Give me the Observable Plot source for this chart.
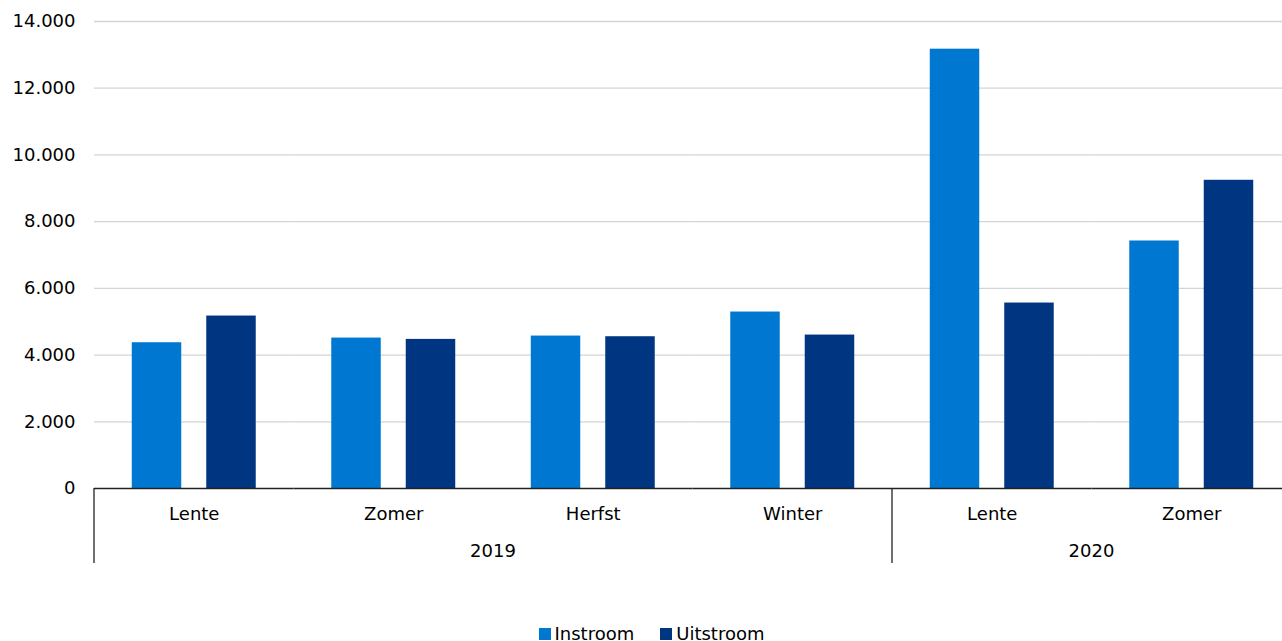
<!DOCTYPE html>
<html><head><meta charset="utf-8">
<script src="https://cdn.jsdelivr.net/npm/d3@7"></script>
<script src="https://cdn.jsdelivr.net/npm/@observablehq/plot@0.6"></script>
<style>
html,body{margin:0;background:#fff;font-family:"DejaVu Sans",Verdana,sans-serif;overflow:hidden;}
#chart svg{max-width:none !important;}
#legend{width:1282px;display:flex;justify-content:center;align-items:center;height:22px;line-height:22px;font-size:18px;color:#000;padding-left:21px;box-sizing:border-box;}
#legend .item{display:flex;align-items:center;margin-right:26px;}
#legend .item:last-child{margin-right:0;}
#legend .sw{width:12px;height:12px;margin-right:4px;}
</style></head><body><div id="chart"></div><div id="legend"></div>
<script>
const years = ["2019","2019","2019","2019","2020","2020"];
const seasons = ["Lente","Zomer","Herfst","Winter","Lente","Zomer"];
const series = ["Instroom","Uitstroom"];
const instroom = [4370,4510,4570,5290,13170,7420];
const uitstroom = [5170,4470,4550,4600,5560,9240];
const yTicks = [0,2000,4000,6000,8000,10000,12000,14000];
const colors = ["#0078d2","#003582"];

const periods = seasons.map((s,i)=>`${years[i]} ${s}`);
const data = periods.flatMap((p,i)=>[
  {period:p, series:series[0], value:instroom[i]},
  {period:p, series:series[1], value:uitstroom[i]}
]);
const fmt = d => d3.format(",")(d).replace(/,/g,".");

const plot = Plot.plot({
  width:1291, height:623, marginTop:21, marginBottom:135, marginLeft:94, marginRight:0,
  style:{fontFamily:"DejaVu Sans, Verdana, sans-serif", fontSize:"18px", color:"#000", background:"#fff", overflow:"visible"},
  fx:{domain:periods, padding:0, round:false, label:null},
  x:{domain:series, paddingInner:0.3356, paddingOuter:0.507, round:false, axis:null},
  y:{domain:[0,14000], label:null},
  color:{domain:series, range:colors},
  marks:[
    Plot.gridY(yTicks.filter(d=>d>0), {stroke:"#d4d4d4", strokeOpacity:1, strokeWidth:1.3}),
    Plot.axisY(yTicks, {tickSize:0, tickPadding:19, tickFormat:fmt, label:null, fontSize:18}),
    Plot.barY(data, {fx:"period", x:"series", y:"value", fill:"series"}),
    Plot.ruleY([0], {stroke:"#222", strokeWidth:1.3}),
    Plot.axisFx({anchor:"bottom", tickFormat: p => p.split(" ").slice(1).join(" "), tickSize:0, tickPadding:19, label:null, fontSize:18})
  ]
});
document.getElementById("chart").appendChild(plot);

// hierarchical year axis via the fx scale
const fx = plot.scale("fx");
const y = plot.scale("y");
const y0 = y.apply(0);
const svg = d3.select(plot);
const g = svg.append("g");
const uniqYears = [...new Set(years)];
uniqYears.forEach(yr => {
  const ps = periods.filter((p,i)=>years[i]===yr);
  const x0 = fx.apply(ps[0]);
  const x1 = fx.apply(ps[ps.length-1]) + fx.bandwidth;
  g.append("line").attr("x1",x0).attr("x2",x0).attr("y1",y0).attr("y2",y0+75)
    .attr("stroke","#222").attr("stroke-width",1.3);
  g.append("text").attr("x",(x0+x1)/2).attr("y",y0+69).attr("text-anchor","middle")
    .attr("font-size",18).attr("fill","#000").text(yr);
});

const leg = d3.select("#legend");
series.forEach((s,i)=>{
  const it = leg.append("div").attr("class","item");
  it.append("div").attr("class","sw").style("background",colors[i]);
  it.append("span").text(s);
});
</script></body></html>
